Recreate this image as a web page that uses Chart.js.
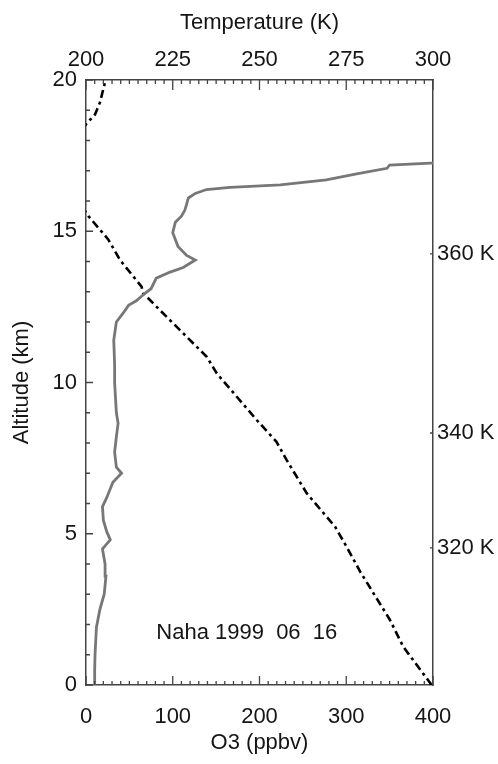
<!DOCTYPE html>
<html>
<head>
<meta charset="utf-8">
<script src="https://cdn.jsdelivr.net/npm/chart.js@4.4.1/dist/chart.umd.min.js"></script>
<style>
    body { margin: 0; background: #fff; }
    #chart { display: block; }
</style>
</head>
<body>
<canvas id="chart" width="498" height="764"></canvas>
<script>
// Ozone profile (ppbv vs km)
const ozoneAlt = [0, 0.5, 1.0, 1.9, 2.5, 3.0, 3.6, 4.0, 4.5, 4.8, 5.06, 5.45, 5.9, 6.2, 6.7, 7.0, 7.2, 7.7, 8.2, 8.65, 9.0, 9.5, 10.0, 10.6, 11.4, 12.0, 12.3, 12.55, 12.7, 12.95, 13.1, 13.45, 13.65, 13.8, 14.05, 14.2, 14.5, 14.95, 15.3, 15.5, 15.7, 15.9, 16.1, 16.25, 16.38, 16.45, 16.53, 16.7, 16.9, 17.08, 17.19, 17.25, 17.27];
const ozoneVal = [9.6, 10, 10.4, 12, 16, 21, 23, 22, 19, 28, 24, 20, 19, 24, 31, 41, 35, 33, 35, 37, 35, 34, 33, 33, 32, 35, 43, 49, 58, 68, 75, 81, 97, 112, 126, 116, 106, 100, 103, 110, 114, 116, 118, 126, 139, 166, 224, 277, 312, 347, 350, 397, 410];

// Temperature profile (K vs km)
const tempAlt = [0, 1.27, 2.15, 3.75, 4.57, 5.23, 6.34, 7.44, 8.04, 8.76, 10.3, 10.85, 12.45, 12.95, 13.17, 14.05, 14.73, 15.5, 16.3, 17.0, 17.8, 18.4, 18.59, 18.86, 19.25, 19.93, 20.0];
const tempVal = [299.6, 291.4, 287.6, 279.0, 275.1, 271.8, 263.6, 257.8, 254.9, 249.2, 237.7, 234.8, 220.8, 216.5, 216.0, 209.8, 206.4, 200.7, 196, 193, 195, 199, 200.4, 202.6, 204, 205.5, 205.7];

// Potential temperature marks on the right
const thetaAlt = [4.53, 8.33, 14.25];
const thetaLabels = ['320 K', '340 K', '360 K'];

const FONT = 'Liberation Sans, Arial, Helvetica, sans-serif';
const AXIS = '#444';
const TEXT = '#151515';

function pts(xs, ys) {
    return ys.map((y, i) => ({ x: xs[i], y: y }));
}

// Inward tick marks, IDL style
const tickPlugin = {
    id: 'inwardTicks',
    afterDraw(chart) {
        const ctx = chart.ctx;
        const a = chart.chartArea;
        const s = chart.scales;
        ctx.save();
        ctx.strokeStyle = AXIS;
        ctx.lineWidth = 1.3;
        ctx.beginPath();
        for (let v = 0; v <= 400.001; v += 10) {
            const px = s.x.getPixelForValue(v);
            const len = (Math.round(v) % 100 === 0) ? 9 : 4;
            ctx.moveTo(px, a.bottom);
            ctx.lineTo(px, a.bottom - len);
        }
        for (let v = 200; v <= 300.001; v += 2.5) {
            const px = s.x2.getPixelForValue(v);
            const len = (Math.abs(v % 25) < 0.01) ? 10 : 4;
            ctx.moveTo(px, a.top);
            ctx.lineTo(px, a.top + len);
        }
        for (let v = 0; v <= 20.001; v += 1) {
            const py = s.y.getPixelForValue(v);
            const len = (Math.round(v) % 5 === 0) ? 7 : 4;
            ctx.moveTo(a.left, py);
            ctx.lineTo(a.left + len, py);
        }
        thetaAlt.forEach(v => {
            const py = s.y2.getPixelForValue(v);
            ctx.moveTo(a.right, py);
            ctx.lineTo(a.right - 3, py);
        });
        ctx.stroke();

        // station / date note
        ctx.fillStyle = TEXT;
        ctx.font = '22px ' + FONT;
        ctx.textAlign = 'left';
        ctx.textBaseline = 'middle';
        ctx.fillText('Naha 1999  06  16', s.x.getPixelForValue(81), s.y.getPixelForValue(1.72));
        ctx.restore();
    }
};

const font = { family: FONT, size: 22 };

new Chart(document.getElementById('chart'), {
    type: 'scatter',
    data: {
        datasets: [
            {
                label: 'O3',
                data: pts(ozoneVal, ozoneAlt),
                xAxisID: 'x',
                yAxisID: 'y',
                showLine: true,
                borderColor: '#777',
                borderWidth: 2.8,
                pointRadius: 0,
                tension: 0
            },
            {
                label: 'Temperature',
                data: pts(tempVal, tempAlt),
                xAxisID: 'x2',
                yAxisID: 'y',
                showLine: true,
                borderColor: '#000',
                borderWidth: 2.6,
                borderDash: [8, 4, 3, 4],
                pointRadius: 0,
                tension: 0
            }
        ]
    },
    options: {
        responsive: false,
        animation: false,
        layout: { padding: 0 },
        plugins: {
            legend: { display: false },
            tooltip: { enabled: false }
        },
        scales: {
            x: {
                type: 'linear',
                position: 'bottom',
                min: 0,
                max: 400,
                ticks: { stepSize: 100, font: font, color: TEXT, padding: 19, maxRotation: 0 },
                grid: { display: false, drawTicks: false },
                border: { display: true, color: AXIS, width: 1.5 },
                title: { display: true, text: 'O3 (ppbv)', font: font, color: TEXT, padding: { top: 0, bottom: 8 } },
                afterFit(scale) { scale.height = 79; }
            },
            x2: {
                type: 'linear',
                position: 'top',
                min: 200,
                max: 300,
                ticks: { stepSize: 25, font: font, color: TEXT, padding: 7, maxRotation: 0 },
                grid: { display: false, drawTicks: false },
                border: { display: true, color: AXIS, width: 1.5 },
                title: { display: true, text: 'Temperature (K)', font: font, color: TEXT, padding: { top: 10, bottom: 0 } },
                afterFit(scale) { scale.height = 80; }
            },
            y: {
                type: 'linear',
                position: 'left',
                min: 0,
                max: 20,
                ticks: { stepSize: 5, font: font, color: TEXT, padding: 9 },
                grid: { display: false, drawTicks: false },
                border: { display: true, color: AXIS, width: 1.5 },
                title: { display: true, text: 'Altitude (km)', font: font, color: TEXT, padding: { top: 9, bottom: 0 } },
                afterFit(scale) { scale.width = 86; }
            },
            y2: {
                type: 'linear',
                position: 'right',
                min: 0,
                max: 20,
                afterBuildTicks(scale) {
                    scale.ticks = thetaAlt.map(v => ({ value: v }));
                },
                ticks: {
                    font: font,
                    color: TEXT,
                    padding: 4,
                    callback: function(value, index) { return thetaLabels[index]; }
                },
                grid: { display: false, drawTicks: false },
                border: { display: true, color: AXIS, width: 1.5 },
                afterFit(scale) { scale.width = 65; }
            }
        }
    },
    plugins: [tickPlugin]
});
</script>
</body>
</html>
